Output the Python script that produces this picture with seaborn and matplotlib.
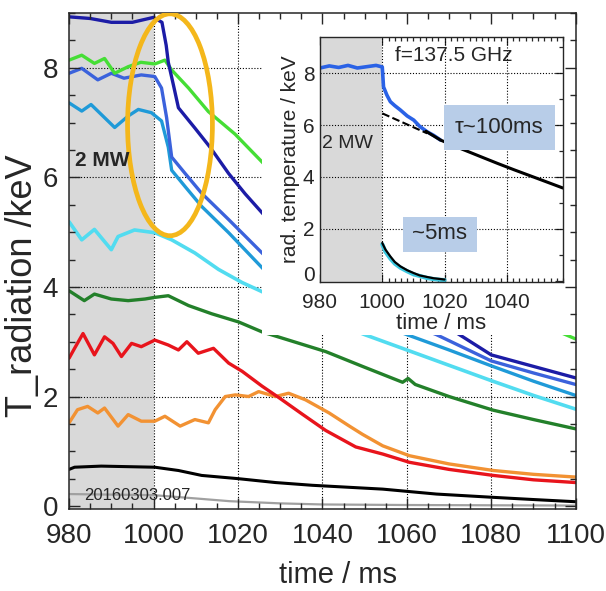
import matplotlib
matplotlib.use("Agg")
import matplotlib.pyplot as plt
import seaborn as sns
from matplotlib.patches import Ellipse, Rectangle
from matplotlib.ticker import MultipleLocator

# ---- data (time in ms, T in keV) ----
navy_t = [980, 985, 990, 995, 1000, 1002, 1003, 1003.5, 1004.7, 1005.9, 1009.8, 1013.4, 1017.8,
          1021.7, 1026.1, 1040, 1055, 1071, 1080, 1090, 1100]
navy_T = [8.93, 8.9, 8.83, 8.83, 8.92, 8.83, 8.41, 8.1, 7.69, 7.27, 6.9, 6.55, 6.07,
          5.7, 5.32, 4.5, 3.8, 3.2, 2.76, 2.55, 2.34]

green_t = [980, 983, 986, 988.4, 990.8, 994, 997, 1000.3, 1002.7, 1004.3, 1008.3, 1013, 1019.3,
           1026.1, 1050, 1075, 1097, 1100]
green_T = [8.14, 8.23, 8.08, 8.17, 7.9, 8.02, 8.1, 8.07, 8.14, 7.96, 7.63, 7.2, 6.79,
           6.25, 5.0, 3.9, 3.15, 3.05]

blue_t = [980, 983, 986.8, 990, 993, 997.1, 1000.3, 1001.9, 1003.1, 1004.3, 1007.5, 1011.4,
          1017.8, 1026.1, 1045, 1067, 1080, 1090, 1100]
blue_T = [7.9, 7.99, 7.78, 7.9, 7.81, 7.87, 7.84, 7.63, 7.09, 6.37, 6.07, 5.71,
          5.23, 4.59, 3.8, 3.13, 2.65, 2.43, 2.22]

sky_t = [980, 983, 985.2, 988.4, 990.8, 994, 996.4, 999.5, 1001.9, 1003.5, 1004.3, 1007.5,
         1011.4, 1017.8, 1026.1, 1042, 1060, 1070, 1080, 1090, 1100]
sky_T = [7.36, 7.21, 7.33, 7.09, 6.91, 7.12, 7.24, 7.18, 7.03, 6.55, 6.13, 5.83,
         5.47, 4.99, 4.32, 3.65, 3.13, 2.85, 2.56, 2.28, 2.02]

cyan_t = [980, 983, 986, 990, 991.6, 995.5, 1000.3, 1004.3, 1009.8, 1015.4, 1021, 1026.1,
          1038, 1050, 1060, 1070, 1080, 1090, 1100]
cyan_T = [5.19, 4.86, 5.05, 4.68, 4.92, 5.04, 4.99, 4.86, 4.62, 4.32, 4.08, 3.9,
          3.5, 3.13, 2.85, 2.57, 2.29, 2.02, 1.77]

dgreen_t = [980, 983.6, 986, 990, 994, 998, 1000.3, 1003.5, 1008.3, 1013.8, 1020.2, 1025.7,
            1032, 1040.8, 1049.5, 1059, 1060.3, 1062, 1070, 1080.5, 1090, 1100]
dgreen_T = [3.93, 3.75, 3.87, 3.78, 3.75, 3.78, 3.81, 3.84, 3.66, 3.51, 3.36, 3.18,
            3.03, 2.82, 2.55, 2.26, 2.33, 2.22, 2.0, 1.75, 1.58, 1.41]

red_t = [980, 981.3, 983.3, 986, 988.4, 990.4, 992.4, 994.8, 997.1, 1000.3, 1003.5, 1005.9,
         1007.9, 1010.6, 1014.2, 1017.8, 1021, 1025.7, 1029.7, 1035.2, 1040.8, 1047.9, 1054.3,
         1060.6, 1070, 1080.5, 1090, 1100]
red_T = [2.7, 2.88, 3.15, 2.76, 3.09, 2.97, 2.73, 2.97, 2.91, 3.03, 2.94, 2.85,
         3.0, 2.79, 2.88, 2.61, 2.46, 2.19, 1.98, 1.68, 1.38, 1.08, 0.95,
         0.8, 0.67, 0.56, 0.48, 0.43]

orange_t = [980, 982, 984.4, 986.8, 988.4, 991.6, 994, 997.1, 1000.3, 1002.7, 1006.3, 1009.8,
            1013, 1014.6, 1017, 1019.4, 1022.5, 1024.9, 1028.9, 1032, 1036, 1041.6, 1046.4,
            1049.5, 1054.3, 1060.6, 1070, 1080.5, 1090, 1100]
orange_T = [1.52, 1.76, 1.82, 1.7, 1.79, 1.46, 1.67, 1.55, 1.55, 1.64, 1.46, 1.58,
            1.52, 1.76, 2.0, 2.03, 2.0, 2.09, 2.0, 2.06, 1.94, 1.7, 1.46,
            1.31, 1.1, 0.92, 0.77, 0.65, 0.58, 0.53]

black_t = [980, 981.3, 987.6, 1000.3, 1005.9, 1011.4, 1020.2, 1028.9, 1037.6, 1054.3, 1067,
           1080.5, 1090, 1100]
black_T = [0.67, 0.71, 0.73, 0.71, 0.65, 0.56, 0.5, 0.43, 0.38, 0.31, 0.22,
           0.16, 0.12, 0.08]

grey_t = [980, 1000, 1005, 1010, 1018, 1030, 1040, 1060, 1100]
grey_T = [0.22, 0.2, 0.17, 0.14, 0.09, 0.05, 0.03, 0.02, 0.01]

# inset: f = 137.5 GHz channel
ins_blue_t = [980, 983, 986, 989, 992, 995, 998, 1000, 1000.4, 1001.5, 1002.6, 1004, 1005.8,
              1008, 1010.1, 1012, 1014.4, 1016.5, 1018.7]
ins_blue_T = [8.2, 8.28, 8.22, 8.3, 8.2, 8.25, 8.3, 8.24, 7.47, 7.15, 6.9, 6.75, 6.58,
              6.35, 6.19, 5.95, 5.74, 5.6, 5.42]
ins_slow_t = [1014, 1018.7, 1025, 1031.6, 1037, 1042.4, 1050, 1058]
ins_slow_T = [5.76, 5.42, 5.1, 4.78, 4.52, 4.27, 3.93, 3.57]
ins_fit_t = [1000, 1014.4]
ins_fit_T = [6.45, 5.68]
ins_fast_t = [1000, 1001, 1002.6, 1004, 1005.8, 1008, 1010.1, 1012, 1014.4, 1016.5, 1018.7, 1020]
ins_fast_T = [1.45, 1.2, 0.93, 0.72, 0.55, 0.4, 0.29, 0.2, 0.14, 0.09, 0.06, 0.04]
ins_fastc_T = [1.4, 1.12, 0.85, 0.66, 0.5, 0.36, 0.24, 0.18, 0.1, 0.06, 0.03, 0.02]

main_xticks = [980, 1000, 1020, 1040, 1060, 1080, 1100]
main_yticks = [0, 2, 4, 6, 8]
ins_xticks = [980, 1000, 1020, 1040]
ins_yticks = [0, 2, 4, 6, 8]

FONT = ['Liberation Sans', 'DejaVu Sans']

sns.set_style("ticks")
plt.rcParams['font.family'] = FONT

fig = plt.figure(figsize=(6.06, 5.91), dpi=100)
ax = fig.add_axes([0.114, 0.139, 0.836, 0.839])

gray = '#d9d9d9'
dots = (0, (1, 1.6))


def grid(a, xs, ys):
    for x in xs:
        a.axvline(x, color='k', ls=dots, lw=0.8, zorder=1.2)
    for y in ys:
        a.axhline(y, color='k', ls=dots, lw=0.8, zorder=1.2)


ax.axvspan(980, 1000, color=gray, lw=0, zorder=0.8)
grid(ax, main_xticks[1:-1], main_yticks[1:])

series = [
    (grey_t, grey_T, '#a0a0a0', 1.6),
    (black_t, black_T, 'black', 2.2),
    (orange_t, orange_T, '#f29233', 2.4),
    (red_t, red_T, '#e8141c', 2.4),
    (dgreen_t, dgreen_T, '#23802a', 2.4),
    (cyan_t, cyan_T, '#52dcf0', 2.6),
    (sky_t, sky_T, '#1f9ad8', 2.4),
    (blue_t, blue_T, '#3b62dc', 2.4),
    (green_t, green_T, '#45de35', 2.4),
    (navy_t, navy_T, '#1c1ca6', 2.4),
]
for t, T, c, w in series:
    sns.lineplot(x=t, y=T, ax=ax, color=c, lw=w, estimator=None, sort=False, zorder=2)

# white area that holds the inset
ax.add_patch(Rectangle((0.381, 0.351), 0.619, 0.649, transform=ax.transAxes,
                       facecolor='white', edgecolor='none', zorder=2.3))

# highlight ellipse
ell_xy, ell_w, ell_h = (1003.9, 6.96), 20.1, 4.05
ax.add_patch(Ellipse(ell_xy, ell_w, ell_h, fill=False, edgecolor='#f4b71b', lw=3.4, zorder=4))

ax.text(981.4, 6.3, '2 MW', fontsize=15, fontweight='bold', va='center', ha='left', zorder=5)
ax.text(983.6, 0.2, '20160303.007', fontsize=12, va='center', ha='left', zorder=5)

ax.set_xlim(980, 1100)
ax.set_ylim(-0.05, 9.0)
ax.set_xticks(main_xticks)
ax.set_yticks(main_yticks)
ax.xaxis.set_minor_locator(MultipleLocator(5))
ax.yaxis.set_minor_locator(MultipleLocator(0.5))
ax.tick_params(which='both', direction='in', top=True, right=True, width=1, labelsize=20)
ax.tick_params(axis='x', which='major', pad=10)
ax.tick_params(axis='y', which='major', pad=8)
ax.tick_params(which='major', length=8)
ax.tick_params(which='minor', length=4)
ax.xaxis.set_zorder(2.5)
ax.yaxis.set_zorder(2.5)
for s in ax.spines.values():
    s.set_zorder(3)
    s.set_linewidth(1.1)
ax.set_xlabel('time / ms', fontsize=21)
ax.xaxis.set_label_coords(0.53, -0.105)
ax.set_ylabel('T_radiation /keV', fontsize=26)
ax.yaxis.set_label_coords(-0.058, 0.45)

# ---- inset ----
ins = fig.add_axes([0.528, 0.523, 0.401, 0.4146], zorder=5)
ins.axvspan(980, 1000, color=gray, lw=0, zorder=0.8)
grid(ins, ins_xticks[1:], ins_yticks[1:])
sns.lineplot(x=ins_blue_t, y=ins_blue_T, ax=ins, color='#2a62e6', lw=2.6, estimator=None, sort=False, zorder=2)
sns.lineplot(x=ins_slow_t, y=ins_slow_T, ax=ins, color='black', lw=2.2, estimator=None, sort=False, zorder=2.2)
sns.lineplot(x=ins_fit_t, y=ins_fit_T, ax=ins, color='black', lw=1.5, ls='--', estimator=None, sort=False, zorder=2.2)
sns.lineplot(x=ins_fast_t, y=ins_fastc_T, ax=ins, color='#3cc8e0', lw=3, estimator=None, sort=False, zorder=2)
sns.lineplot(x=ins_fast_t, y=ins_fast_T, ax=ins, color='black', lw=1.6, estimator=None, sort=False, zorder=2.2)

box_c = '#b8cde8'
ins.add_patch(Rectangle((1019.7, 5.04), 35.8, 1.73, facecolor=box_c, edgecolor='none', zorder=3))
ins.text(1037.6, 5.9, 'τ~100ms', fontsize=16, ha='center', va='center', zorder=4)
ins.add_patch(Rectangle((1006.5, 1.12), 23.8, 1.34, facecolor=box_c, edgecolor='none', zorder=3))
ins.text(1018.4, 1.8, '~5ms', fontsize=16, ha='center', va='center', zorder=4)
ins.text(1023, 8.7, 'f=137.5 GHz', fontsize=15, ha='center', va='center', zorder=4)
ins.text(980.6, 5.3, '2 MW', fontsize=14, ha='left', va='center', zorder=4)

ins.set_xlim(980, 1058)
ins.set_ylim(-0.05, 9.4)
ins.set_xticks(ins_xticks)
ins.set_yticks(ins_yticks)
ins.xaxis.set_minor_locator(MultipleLocator(2))
ins.yaxis.set_minor_locator(MultipleLocator(1))
ins.tick_params(which='both', direction='in', top=True, right=True, width=0.9, labelsize=15)
ins.tick_params(axis='x', which='major', pad=8)
ins.tick_params(axis='y', which='major', pad=4)
ins.tick_params(which='major', length=6)
ins.tick_params(which='minor', length=3)
for s in ins.spines.values():
    s.set_linewidth(1.0)
ins.set_xlabel('time / ms', fontsize=16, labelpad=1)
ins.set_ylabel('rad. temperature / keV', fontsize=15, labelpad=2)
# the "0" sits a little above its tick so it clears the "980" below it
ins.get_yticklabels()[0].set_verticalalignment('baseline')

fig.savefig('out.png', dpi=100)
